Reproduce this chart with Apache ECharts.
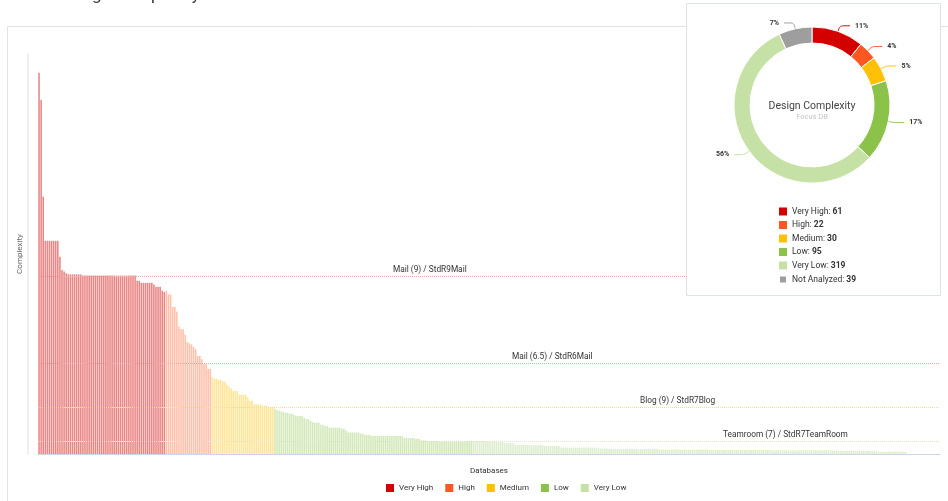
<!DOCTYPE html>
<html>
<head>
<meta charset="utf-8">
<script src="https://cdn.jsdelivr.net/npm/echarts@6/dist/echarts.min.js"></script>
<style>
  html, body { margin: 0; padding: 0; background: #fff; }
  #designComplexity { width: 948px; height: 501px; }
</style>
</head>
<body>
<div id="designComplexity"></div>
<script>
// bar heights per complexity class (sorted, descending)
const veryHigh = [95.3, 88.5, 64.3, 53.3, 53.3, 53.3, 53.3, 53.3, 53.3, 53.3, 49.3, 46, 45.6, 45.2,
  44.9, 44.9, 44.9, 44.9, 44.9, 44.9, 44.9,
  44.6, 44.6, 44.6, 44.6, 44.6, 44.6, 44.6, 44.6, 44.6, 44.6, 44.6, 44.6, 44.6,
  44.6, 44.6, 44.6, 44.6, 44.6, 44.6, 44.6, 44.6, 44.6, 44.6, 44.6, 44.6, 44.6,
  43.3, 43.3, 42.8, 42.8, 42.8, 42.8, 42.8, 42.8, 42.4, 41.8, 41.8, 41.8, 40.8, 40.5];
const high = [40.8, 39.9, 39.9, 36.8, 36.8, 35.6, 31.8, 31.2, 31.2, 29.8, 28, 27.7, 27.4, 26.8, 26.2,
  24.5, 24.5, 23.7, 22.5, 22.5, 21.3, 21.3];
const medium = [19.3, 18.8, 18.8, 18.5, 18.5, 18.1, 18.1, 17.4, 16.8, 16.4, 15.8, 15.8, 15.8,
  14.8, 14.8, 14.8, 14.8, 14.2, 13.3, 13.3, 12.4, 12.4, 12.4, 12.4, 12.1, 12.1, 12.1, 11.8, 11.8, 11.8];
const low = [11.3, 11, 10.8, 10.6, 10.6, 10.3, 10.3, 10.1, 10.1, 9.8, 9.5, 9.5, 9.5, 9.5, 9, 8.7, 8.7,
  8.3, 8, 7.8, 7.8, 7.8, 7.3, 7.3, 7, 7, 6.6, 6.6, 6.6, 6.6, 6.6, 6.6, 6.3, 6.3, 5.9,
  5.4, 5.4, 5.4, 5.4, 5.4, 5.4, 5.1, 5.1, 4.8, 4.8, 4.8,
  4.5, 4.5, 4.5, 4.5, 4.5, 4.5, 4.5, 4.5, 4.5, 4.5, 4.5, 4.5, 4.5, 4.5, 4.5, 4.5,
  4, 4, 4, 4, 4, 3.8, 3.8, 3.8, 3.4, 3.4, 3.4,
  3.2, 3.2, 3.2, 3.2, 3.2, 3.2, 3.2, 3.2, 3.2, 3.2, 3.2, 3.2, 3.2, 3.2, 3.2, 3.2, 3.2, 3.2, 3.2, 3.2, 3.2, 3.2];
const veryLow = [3.2, 3.2, 3.2, 3.2, 3.2, 3.2, 3.2, 3.2, 3.2, 3.2, 3.2, 3.2, 3, 3, 3,
  2.7, 2.7, 2.7, 2.7, 2.7, 2.3, 2.3, 2.3, 2.3, 2.3, 2.3, 2.3, 2.3, 2.2, 2.2, 2.2, 2.2, 2.2, 2.2,
  2, 2, 2, 2, 2, 2, 2, 2,
  1.6, 1.6, 1.6, 1.6, 1.6, 1.6, 1.6, 1.6, 1.6, 1.6, 1.6, 1.6, 1.6, 1.6, 1.6, 1.6, 1.6, 1.6,
  1.4, 1.4, 1.4, 1.4, 1.4,
  1.3, 1.3, 1.3, 1.3, 1.3, 1.3, 1.3, 1.3, 1.3, 1.3, 1.3, 1.3, 1.3, 1.3, 1.3, 1.3, 1.3, 1.3, 1.3, 1.3, 1.3, 1.3, 1.3, 1.3,
  1.1, 1.1, 1.1, 1.1, 1.1, 1.1, 1.1, 1.1, 1.1, 1.1, 1.1, 1.1, 1.1, 1.1, 1.1, 1.1, 1.1, 1.1, 1.1, 1.1, 1.1, 1.1, 1.1, 1.1,
  1, 1, 1, 1, 1, 1, 1, 1, 1, 1, 1, 1, 1, 1, 1, 1, 1, 1, 1, 1, 1, 1, 1, 1, 1, 1, 1, 1, 1, 1,
  0.9, 0.9, 0.9, 0.9, 0.9, 0.9, 0.9, 0.9, 0.9, 0.9, 0.9, 0.9, 0.9, 0.9, 0.9, 0.9, 0.9, 0.9, 0.9, 0.9,
  0.9, 0.9, 0.9, 0.9, 0.9, 0.9, 0.9, 0.9, 0.9, 0.9,
  0.8, 0.8, 0.8, 0.8, 0.8, 0.8, 0.8, 0.8, 0.8, 0.8, 0.8, 0.8, 0.8, 0.8, 0.8, 0.8, 0.8, 0.8, 0.8, 0.8,
  0.6, 0.6, 0.6, 0.6, 0.6, 0.6, 0.6, 0.6, 0.6, 0.6, 0.6, 0.6, 0.6, 0.6, 0.6,
  0, 0, 0, 0, 0, 0, 0, 0, 0, 0, 0, 0, 0, 0, 0, 0];

const classNames = ['Very High', 'High', 'Medium', 'Low', 'Very Low'];
const classColors = ['#d40000', '#ff5722', '#ffc107', '#8bc34a', '#c5e1a5'];
const barColors = ['rgba(212,0,0,0.48)', 'rgba(255,87,34,0.38)', 'rgba(255,193,7,0.42)',
  'rgba(139,195,74,0.38)', 'rgba(170,210,130,0.4)'];

// reference templates drawn as horizontal lines
const refNames = ['Mail (9) / StdR9Mail', 'Mail (6.5) / StdR6Mail', 'Blog (9) / StdR7Blog', 'Teamroom (7) / StdR7TeamRoom'];
const refValues = [44.5, 22.75, 11.75, 3.25];
const refColors = ['#f2a3a3', '#f2a3a3', '#f7dc98', '#dfe8cc'];
const refLabelX = [355, 474, 602, 685];

// donut
const pieNames = ['Very High', 'High', 'Medium', 'Low', 'Very Low', 'Not Analyzed'];
const pieValues = [61, 22, 30, 95, 319, 39];
const pieColors = ['#d40000', '#ff5722', '#ffc107', '#8bc34a', '#c5e1a5', '#9e9e9e'];

const groups = [veryHigh, high, medium, low, veryLow];
const total = groups.reduce((n, g) => n + g.length, 0);
const databases = [];
for (let i = 0; i < total; i++) databases.push('DB ' + (i + 1));

let offset = 0;
const barSeries = groups.map((vals, k) => {
  const data = [];
  for (let i = 0; i < total; i++) {
    const j = i - offset;
    data.push(j >= 0 && j < vals.length ? vals[j] : '-');
  }
  offset += vals.length;
  return {
    name: classNames[k],
    type: 'bar',
    stack: 'db',
    barCategoryGap: '25%',
    data: data,
    itemStyle: { color: barColors[k] },
    emphasis: { disabled: true },
  };
});

barSeries[4].markLine = {
  silent: true,
  symbol: 'none',
  animation: false,
  data: refValues.map((v, i) => ({
    yAxis: v,
    lineStyle: { color: refColors[i], type: 'dotted', width: 1 },
    label: {
      show: true,
      position: 'insideStartTop',
      distance: [refLabelX[i], 2],
      formatter: refNames[i],
      color: '#333',
      fontSize: 8.3,
      fontFamily: 'Roboto',
    },
  })),
};

const pieData = pieNames.map((n, i) => ({ name: n, value: pieValues[i], itemStyle: { color: pieColors[i] } }));

const myChart = echarts.init(document.getElementById('designComplexity'));
myChart.setOption({
  animation: false,
  textStyle: { fontFamily: 'Roboto' },
  grid: { left: 38, right: 8, top: 54, bottom: 47 },
  graphic: [
    {
      type: 'text', left: 59, top: -13, z: 1,
      style: { text: 'Design Complexity', fontSize: 17, fill: '#333', fontFamily: 'Roboto' },
    },
    {
      type: 'rect', shape: { x: 7.5, y: 26.5, width: 980, height: 520 }, z: 0,
      style: { fill: 'none', stroke: '#e3e3e3', lineWidth: 1 },
    },
    {
      type: 'rect', shape: { x: 686.5, y: 3.5, width: 254, height: 292 }, z: 100,
      style: { fill: '#fff', stroke: '#dde2e6', lineWidth: 1 },
    },
    {
      type: 'text', x: 812, y: 106, z: 120,
      style: { text: 'Design Complexity', fontSize: 10.5, fill: '#444', align: 'center', verticalAlign: 'middle', fontFamily: 'Roboto' },
    },
    {
      type: 'text', x: 812, y: 117, z: 120,
      style: { text: 'Focus DB', fontSize: 7.5, fill: '#c4c4c4', align: 'center', verticalAlign: 'middle', fontFamily: 'Roboto' },
    },
  ],
  legend: [
    {
      data: classNames.map((n, i) => ({ name: n, itemStyle: { color: classColors[i] } })),
      left: 381,
      top: 479,
      itemWidth: 8,
      itemHeight: 8,
      itemGap: 12,
      icon: 'rect',
      selectedMode: false,
      textStyle: { color: '#333', fontSize: 8 },
    },
    {
      data: pieNames.map((n, i) => ({ name: n, itemStyle: { color: pieColors[i] } })),
      orient: 'vertical',
      left: 773,
      top: 202,
      itemWidth: 8,
      itemHeight: 8,
      itemGap: 4.5,
      icon: 'rect',
      selectedMode: false,
      z: 120,
      formatter: name => name + ': {v|' + pieValues[pieNames.indexOf(name)] + '}',
      textStyle: {
        color: '#333',
        fontSize: 8.5,
        rich: { v: { fontWeight: 'bold', fontSize: 8.5, color: '#333' } },
      },
    },
  ],
  xAxis: {
    type: 'category',
    data: databases,
    name: 'Databases',
    nameLocation: 'middle',
    nameGap: 13,
    nameTextStyle: { color: '#333', fontSize: 8 },
    axisLine: { lineStyle: { color: '#ccd6eb', width: 1 } },
    axisTick: { show: false },
    axisLabel: { show: false },
  },
  yAxis: {
    type: 'value',
    min: 0,
    max: 100,
    offset: 10,
    name: 'Complexity',
    nameLocation: 'middle',
    nameGap: 4,
    nameTextStyle: { color: '#666', fontSize: 8 },
    axisLine: { show: true, lineStyle: { color: '#e8ecf1', width: 1.5 } },
    axisTick: { show: false },
    axisLabel: { show: false },
    splitLine: { show: false },
  },
  series: barSeries.concat([
    {
      name: 'Design Complexity',
      type: 'pie',
      z: 110,
      center: [812, 105],
      radius: [62, 78],
      startAngle: 90,
      data: pieData,
      itemStyle: { borderColor: '#fff', borderWidth: 1 },
      emphasis: { disabled: true },
      label: {
        formatter: p => Math.round(p.percent) + '%',
        fontSize: 7,
        fontWeight: 'bold',
        color: '#333',
      },
      labelLine: { length: 6, length2: 10, smooth: true, lineStyle: { width: 1 } },
    },
  ]),
});
</script>
</body>
</html>
